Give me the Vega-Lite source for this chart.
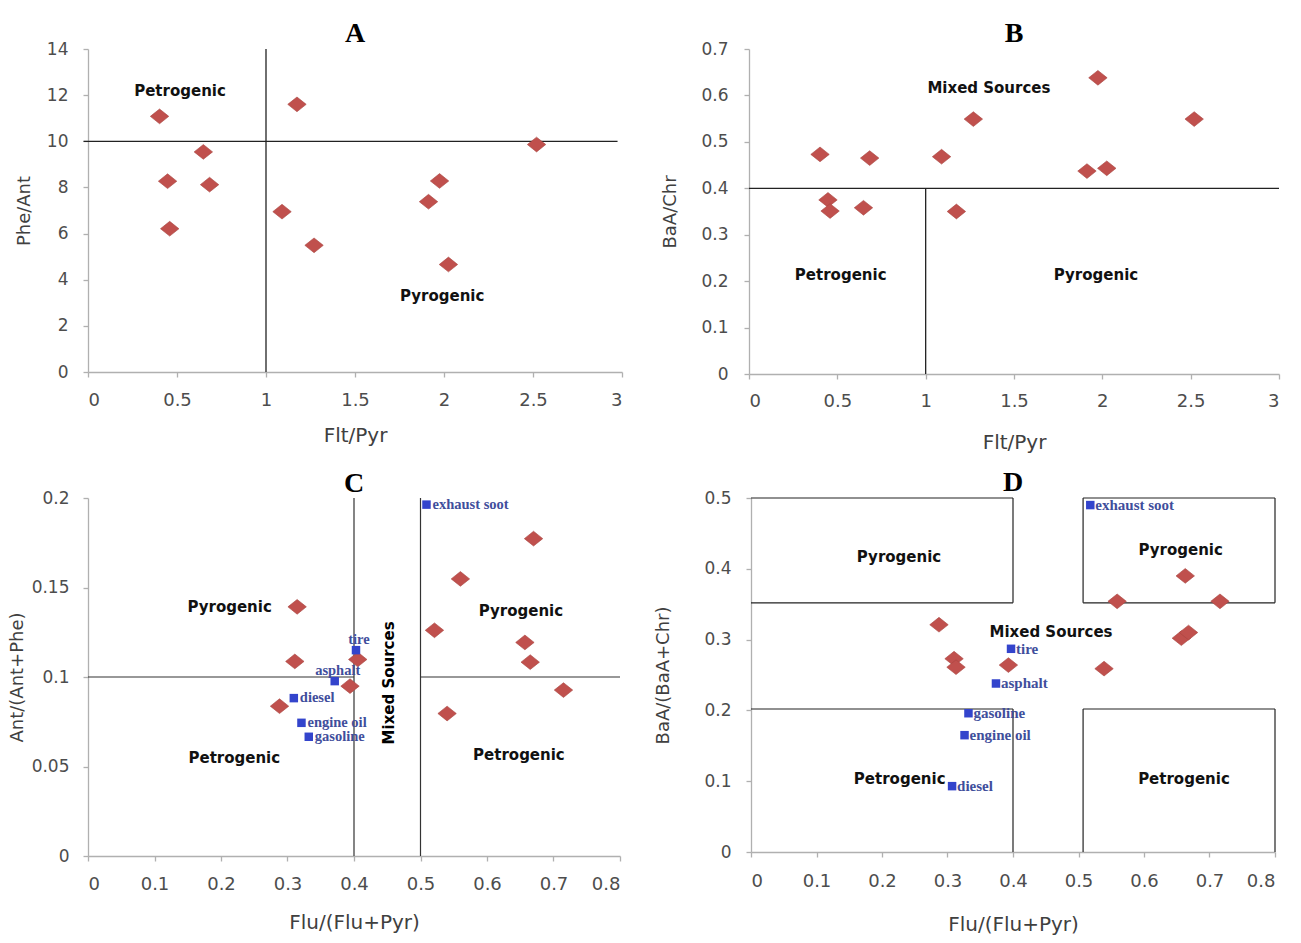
{
  "$schema": "https://vega.github.io/schema/vega-lite/v6.json",
  "background": "white",
  "padding": {"left": 8, "top": 20, "right": 5, "bottom": 5},
  "datasets": {
    "ab": [
      {"sample": 1, "flt_pyr": 0.402, "phe_ant": 11.08, "baa_chr": 0.473},
      {"sample": 2, "flt_pyr": 0.447, "phe_ant": 8.27, "baa_chr": 0.375},
      {"sample": 3, "flt_pyr": 0.459, "phe_ant": 6.21, "baa_chr": 0.351},
      {"sample": 4, "flt_pyr": 0.648, "phe_ant": 9.54, "baa_chr": 0.358},
      {"sample": 5, "flt_pyr": 0.683, "phe_ant": 8.12, "baa_chr": 0.465},
      {"sample": 6, "flt_pyr": 1.09, "phe_ant": 6.95, "baa_chr": 0.468},
      {"sample": 7, "flt_pyr": 1.174, "phe_ant": 11.6, "baa_chr": 0.35},
      {"sample": 8, "flt_pyr": 1.27, "phe_ant": 5.49, "baa_chr": 0.549},
      {"sample": 9, "flt_pyr": 1.913, "phe_ant": 7.38, "baa_chr": 0.437},
      {"sample": 10, "flt_pyr": 1.975, "phe_ant": 8.28, "baa_chr": 0.638},
      {"sample": 11, "flt_pyr": 2.025, "phe_ant": 4.66, "baa_chr": 0.443},
      {"sample": 12, "flt_pyr": 2.52, "phe_ant": 9.86, "baa_chr": 0.549}
    ],
    "c": [
      {"flu": 0.288, "ant": 0.0837},
      {"flu": 0.311, "ant": 0.1087},
      {"flu": 0.3145, "ant": 0.1392},
      {"flu": 0.394, "ant": 0.0949},
      {"flu": 0.4056, "ant": 0.1098},
      {"flu": 0.521, "ant": 0.1261},
      {"flu": 0.54, "ant": 0.0796},
      {"flu": 0.56, "ant": 0.1548},
      {"flu": 0.657, "ant": 0.1193},
      {"flu": 0.665, "ant": 0.1083},
      {"flu": 0.67, "ant": 0.1773},
      {"flu": 0.715, "ant": 0.0927}
    ],
    "d": [
      {"flu": 0.287, "baa": 0.321},
      {"flu": 0.31, "baa": 0.273},
      {"flu": 0.313, "baa": 0.261},
      {"flu": 0.393, "baa": 0.264},
      {"flu": 0.539, "baa": 0.259},
      {"flu": 0.559, "baa": 0.354},
      {"flu": 0.657, "baa": 0.302},
      {"flu": 0.663, "baa": 0.39},
      {"flu": 0.668, "baa": 0.31},
      {"flu": 0.716, "baa": 0.354}
    ],
    "c_src": [
      {"source": "exhaust soot", "flu": 0.509, "ant": 0.1963},
      {"source": "tire", "flu": 0.403, "ant": 0.115},
      {"source": "asphalt", "flu": 0.371, "ant": 0.0977},
      {"source": "diesel", "flu": 0.3095, "ant": 0.0882},
      {"source": "engine oil", "flu": 0.321, "ant": 0.0744},
      {"source": "gasoline", "flu": 0.332, "ant": 0.0666}
    ],
    "d_src": [
      {"source": "exhaust soot", "flu": 0.518, "baa": 0.49},
      {"source": "tire", "flu": 0.397, "baa": 0.287},
      {"source": "asphalt", "flu": 0.374, "baa": 0.238},
      {"source": "gasoline", "flu": 0.332, "baa": 0.196},
      {"source": "engine oil", "flu": 0.326, "baa": 0.165},
      {"source": "diesel", "flu": 0.307, "baa": 0.093}
    ],
    "a_lines": [
      {"x": 1, "x2": 1, "y": 0, "y2": 14},
      {"x": -0.025, "x2": 2.975, "y": 10, "y2": 10}
    ],
    "b_lines": [
      {"x": 1, "x2": 1, "y": 0, "y2": 0.4},
      {"x": 0, "x2": 3, "y": 0.4, "y2": 0.4}
    ],
    "c_lines": [
      {"x": 0.4, "x2": 0.4, "y": 0, "y2": 0.2},
      {"x": 0.5, "x2": 0.5, "y": 0, "y2": 0.2},
      {"x": 0, "x2": 0.4, "y": 0.1, "y2": 0.1},
      {"x": 0.5, "x2": 0.8, "y": 0.1, "y2": 0.1}
    ],
    "d_lines": [
      {"x": 0, "x2": 0.4, "y": 0.5, "y2": 0.5},
      {"x": 0, "x2": 0.4, "y": 0.352, "y2": 0.352},
      {"x": 0.4, "x2": 0.4, "y": 0.352, "y2": 0.5},
      {"x": 0.507, "x2": 0.8, "y": 0.5, "y2": 0.5},
      {"x": 0.507, "x2": 0.8, "y": 0.352, "y2": 0.352},
      {"x": 0.507, "x2": 0.507, "y": 0.352, "y2": 0.5},
      {"x": 0.8, "x2": 0.8, "y": 0.352, "y2": 0.5},
      {"x": 0, "x2": 0.4, "y": 0.202, "y2": 0.202},
      {"x": 0.4, "x2": 0.4, "y": 0, "y2": 0.202},
      {"x": 0.507, "x2": 0.8, "y": 0.202, "y2": 0.202},
      {"x": 0.507, "x2": 0.507, "y": 0, "y2": 0.202},
      {"x": 0.8, "x2": 0.8, "y": 0, "y2": 0.202}
    ],
    "a_text": [
      {"label": "Petrogenic", "x": 0.517, "y": 12.19},
      {"label": "Pyrogenic", "x": 1.99, "y": 3.29}
    ],
    "b_text": [
      {"label": "Mixed Sources", "x": 1.358, "y": 0.616},
      {"label": "Petrogenic", "x": 0.519, "y": 0.214},
      {"label": "Pyrogenic", "x": 1.964, "y": 0.214}
    ],
    "c_text": [
      {"label": "Pyrogenic", "x": 0.213, "y": 0.139},
      {"label": "Petrogenic", "x": 0.22, "y": 0.0545},
      {"label": "Pyrogenic", "x": 0.651, "y": 0.137},
      {"label": "Petrogenic", "x": 0.648, "y": 0.0564}
    ],
    "d_text": [
      {"label": "Pyrogenic", "x": 0.226, "y": 0.417},
      {"label": "Pyrogenic", "x": 0.656, "y": 0.427},
      {"label": "Mixed Sources", "x": 0.458, "y": 0.311},
      {"label": "Petrogenic", "x": 0.227, "y": 0.103},
      {"label": "Petrogenic", "x": 0.661, "y": 0.103}
    ]
  },
  "config": {
    "view": {"stroke": null},
    "font": "DejaVu Sans",
    "axis": {
      "grid": false,
      "domainColor": "#b0b0b0",
      "domainWidth": 1.3,
      "tickColor": "#b0b0b0",
      "tickWidth": 1.3,
      "tickSize": 5,
      "labelFont": "DejaVu Sans",
      "labelFontSize": 17,
      "labelColor": "#4d4d4d",
      "titleFont": "DejaVu Sans",
      "titleFontSize": 19,
      "titleFontWeight": "normal",
      "titleColor": "#404040"
    },
    "axisX": {"labelFontSize": 18, "titleFontSize": 20},
    "axisY": {"labelFontSize": 17, "titleFontSize": 18},
    "title": {"font": "Liberation Serif", "fontSize": 28, "fontWeight": "bold", "color": "#000000", "baseline": "alphabetic", "frame": "group"},
    "point": {"shape": "M-1,0L0,-0.8L1,0L0,0.8Z", "filled": true, "size": 340, "color": "#c0504d", "opacity": 1, "stroke": "#a8443f", "strokeWidth": 0.6},
    "text": {"font": "DejaVu Sans", "fontWeight": "bold", "fontSize": 15, "color": "#111111"}
  },
  "concat": [
    {
      "spacing": 38,
      "hconcat": [
        {
          "title": {"text": "A", "offset": -8},
          "width": 534,
          "height": 323,
          "layer": [
            {
              "data": {"name": "a_lines"},
              "mark": {"type": "rule", "color": "#222222", "strokeWidth": 1.3},
              "encoding": {
                "x": {"field": "x", "type": "quantitative", "scale": {"domain": [0, 3], "nice": false}, "axis": {"values": [0, 0.5, 1, 1.5, 2, 2.5, 3], "format": "~g", "title": "Flt/Pyr", "labelPadding": 14, "titlePadding": 16}},
                "x2": {"field": "x2"},
                "y": {"field": "y", "type": "quantitative", "scale": {"domain": [0, 14], "nice": false}, "axis": {"values": [0, 2, 4, 6, 8, 10, 12, 14], "format": "~g", "title": "Phe/Ant", "labelPadding": 15, "titlePadding": 13}},
                "y2": {"field": "y2"}
              }
            },
            {"mark": {"type": "rule", "color": "#555555", "strokeWidth": 1.3}, "encoding": {"y": {"datum": 14, "type": "quantitative"}}},
            {"mark": {"type": "rule", "color": "#555555", "strokeWidth": 1.3}, "encoding": {"x": {"datum": 3, "type": "quantitative"}}},
            {
              "data": {"name": "a_text"},
              "mark": {"type": "text"},
              "encoding": {"x": {"field": "x", "type": "quantitative"}, "y": {"field": "y", "type": "quantitative"}, "text": {"field": "label"}}
            },
            {
              "data": {"name": "ab"},
              "mark": {"type": "point"},
              "encoding": {"x": {"field": "flt_pyr", "type": "quantitative"}, "y": {"field": "phe_ant", "type": "quantitative"}}
            }
          ]
        },
        {
          "title": {"text": "B", "offset": -8},
          "width": 530,
          "height": 325,
          "layer": [
            {
              "data": {"name": "b_lines"},
              "mark": {"type": "rule", "color": "#222222", "strokeWidth": 1.3},
              "encoding": {
                "x": {"field": "x", "type": "quantitative", "scale": {"domain": [0, 3], "nice": false}, "axis": {"values": [0, 0.5, 1, 1.5, 2, 2.5, 3], "format": "~g", "title": "Flt/Pyr", "labelPadding": 13, "titlePadding": 22}},
                "x2": {"field": "x2"},
                "y": {"field": "y", "type": "quantitative", "scale": {"domain": [0, 0.7], "nice": false}, "axis": {"values": [0, 0.1, 0.2, 0.3, 0.4, 0.5, 0.6, 0.7], "format": "~g", "title": "BaA/Chr", "labelPadding": 16, "titlePadding": 21}},
                "y2": {"field": "y2"}
              }
            },
            {"mark": {"type": "rule", "color": "#555555", "strokeWidth": 1.3}, "encoding": {"y": {"datum": 0.7, "type": "quantitative"}}},
            {"mark": {"type": "rule", "color": "#555555", "strokeWidth": 1.3}, "encoding": {"x": {"datum": 3, "type": "quantitative"}}},
            {
              "data": {"name": "b_text"},
              "mark": {"type": "text"},
              "encoding": {"x": {"field": "x", "type": "quantitative"}, "y": {"field": "y", "type": "quantitative"}, "text": {"field": "label"}}
            },
            {
              "data": {"name": "ab"},
              "mark": {"type": "point"},
              "encoding": {"x": {"field": "flt_pyr", "type": "quantitative"}, "y": {"field": "baa_chr", "type": "quantitative"}}
            }
          ]
        }
      ]
    },
    {
      "spacing": 33,
      "hconcat": [
        {
          "title": {"text": "C", "offset": -9},
          "width": 532,
          "height": 358,
          "layer": [
            {
              "data": {"name": "c_lines"},
              "mark": {"type": "rule", "color": "#333333", "strokeWidth": 1.2},
              "encoding": {
                "x": {"field": "x", "type": "quantitative", "scale": {"domain": [0, 0.8], "nice": false}, "axis": {"values": [0, 0.1, 0.2, 0.3, 0.4, 0.5, 0.6, 0.7, 0.8], "format": "~g", "title": "Flu/(Flu+Pyr)", "labelPadding": 14, "titlePadding": 19}},
                "x2": {"field": "x2"},
                "y": {"field": "y", "type": "quantitative", "scale": {"domain": [0, 0.2], "nice": false}, "axis": {"values": [0, 0.05, 0.1, 0.15, 0.2], "format": "~g", "title": "Ant/(Ant+Phe)", "labelPadding": 14, "titlePadding": 5}},
                "y2": {"field": "y2"}
              }
            },
            {"mark": {"type": "rule", "color": "#555555", "strokeWidth": 1.2}, "encoding": {"y": {"datum": 0.2, "type": "quantitative"}}},
            {"mark": {"type": "rule", "color": "#555555", "strokeWidth": 1.2}, "encoding": {"x": {"datum": 0.8, "type": "quantitative"}}},
            {
              "data": {"name": "c_text"},
              "mark": {"type": "text"},
              "encoding": {"x": {"field": "x", "type": "quantitative"}, "y": {"field": "y", "type": "quantitative"}, "text": {"field": "label"}}
            },
            {
              "data": {"values": [{"label": "Mixed Sources", "x": 0.452, "y": 0.0967}]},
              "mark": {"type": "text", "color": "#000000", "angle": 270},
              "encoding": {"x": {"field": "x", "type": "quantitative"}, "y": {"field": "y", "type": "quantitative"}, "text": {"field": "label"}}
            },
            {
              "data": {"name": "c"},
              "mark": {"type": "point"},
              "encoding": {"x": {"field": "flu", "type": "quantitative"}, "y": {"field": "ant", "type": "quantitative"}}
            },
            {
              "data": {"name": "c_src"},
              "mark": {"type": "point", "shape": "square", "filled": true, "size": 72, "color": "#3344cc", "strokeWidth": 0},
              "encoding": {"x": {"field": "flu", "type": "quantitative"}, "y": {"field": "ant", "type": "quantitative"}}
            },
            {
              "data": {"name": "c_src"},
              "transform": [{"filter": "datum.source != 'tire' && datum.source != 'asphalt'"}],
              "mark": {"type": "text", "font": "Liberation Serif", "fontWeight": "bold", "fontSize": 14.5, "color": "#3f4e9c", "align": "left", "dx": 6},
              "encoding": {"x": {"field": "flu", "type": "quantitative"}, "y": {"field": "ant", "type": "quantitative"}, "text": {"field": "source"}}
            },
            {
              "data": {"name": "c_src"},
              "transform": [{"filter": "datum.source == 'tire' || datum.source == 'asphalt'"}],
              "mark": {"type": "text", "font": "Liberation Serif", "fontWeight": "bold", "fontSize": 14.5, "color": "#3f4e9c", "align": "center", "baseline": "bottom", "dx": 3, "dy": -3},
              "encoding": {"x": {"field": "flu", "type": "quantitative"}, "y": {"field": "ant", "type": "quantitative"}, "text": {"field": "source"}}
            }
          ]
        },
        {
          "title": {"text": "D", "offset": -8},
          "width": 524,
          "height": 354,
          "layer": [
            {
              "data": {"name": "d_lines"},
              "mark": {"type": "rule", "color": "#222222", "strokeWidth": 1.2},
              "encoding": {
                "x": {"field": "x", "type": "quantitative", "scale": {"domain": [0, 0.8], "nice": false}, "axis": {"values": [0, 0.1, 0.2, 0.3, 0.4, 0.5, 0.6, 0.7, 0.8], "format": "~g", "title": "Flu/(Flu+Pyr)", "labelPadding": 15, "titlePadding": 24}},
                "x2": {"field": "x2"},
                "y": {"field": "y", "type": "quantitative", "scale": {"domain": [0, 0.5], "nice": false}, "axis": {"values": [0, 0.1, 0.2, 0.3, 0.4, 0.5], "format": "~g", "title": "BaA/(BaA+Chr)", "labelPadding": 15, "titlePadding": 31}},
                "y2": {"field": "y2"}
              }
            },
            {
              "data": {"name": "d_text"},
              "mark": {"type": "text"},
              "encoding": {"x": {"field": "x", "type": "quantitative"}, "y": {"field": "y", "type": "quantitative"}, "text": {"field": "label"}}
            },
            {
              "data": {"name": "d"},
              "mark": {"type": "point"},
              "encoding": {"x": {"field": "flu", "type": "quantitative"}, "y": {"field": "baa", "type": "quantitative"}}
            },
            {
              "data": {"name": "d_src"},
              "mark": {"type": "point", "shape": "square", "filled": true, "size": 72, "color": "#3344cc", "strokeWidth": 0},
              "encoding": {"x": {"field": "flu", "type": "quantitative"}, "y": {"field": "baa", "type": "quantitative"}}
            },
            {
              "data": {"name": "d_src"},
              "mark": {"type": "text", "font": "Liberation Serif", "fontWeight": "bold", "fontSize": 15, "color": "#3f4e9c", "align": "left", "dx": 5},
              "encoding": {"x": {"field": "flu", "type": "quantitative"}, "y": {"field": "baa", "type": "quantitative"}, "text": {"field": "source"}}
            }
          ]
        }
      ]
    }
  ],
  "columns": 1,
  "align": "none",
  "spacing": 17
}
